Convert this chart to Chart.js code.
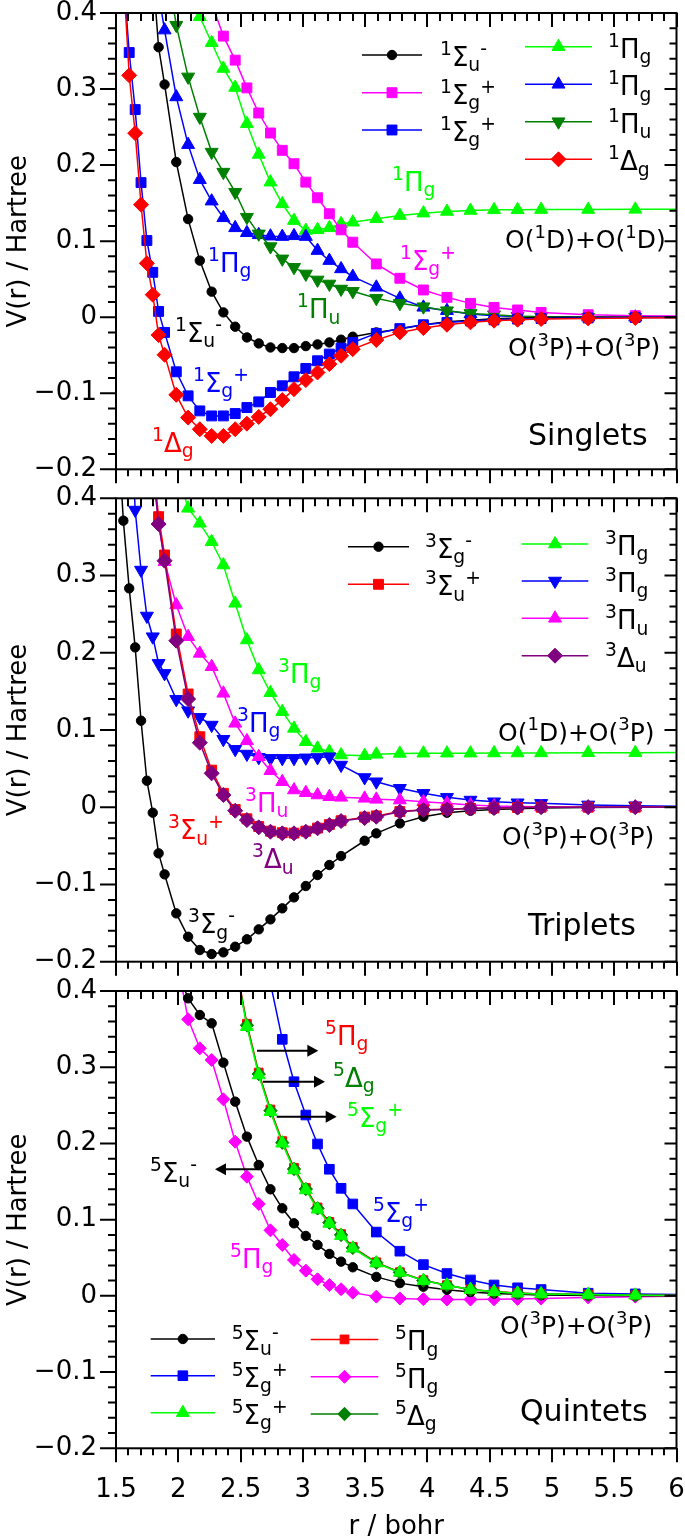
<!DOCTYPE html>
<html><head><meta charset="utf-8">
<script src="https://cdn.jsdelivr.net/npm/chart.js@4/dist/chart.umd.min.js"></script>
<style>
html,body{margin:0;padding:0;background:#fff;overflow:hidden;width:685px;height:1538px;position:relative}
canvas{position:absolute;left:0}
</style></head>
<body>
<canvas id="c1" width="685" height="485" style="top:0px"></canvas>
<canvas id="c2" width="685" height="495" style="top:485px"></canvas>
<canvas id="c3" width="685" height="575" style="top:975px"></canvas>
<script>
const N = null;
// r grid (bohr)
const R = [1.512,1.559,1.606,1.654,1.701,1.748,1.795,1.842,1.890,1.984,
           2.079,2.173,2.268,2.362,2.457,2.551,2.646,2.740,2.835,2.929,
           3.024,3.118,3.213,3.307,3.401,3.496,3.590,3.779,3.968,4.157,
           4.346,4.535,4.724,4.913,5.291,5.669,6.614];
const X_TICKS = ['1.5','2','2.5','3','3.5','4','4.5','5','5.5','6'];
const Y_TICKS = ['\u22120.2','\u22120.1','0','0.1','0.2','0.3','0.4'];

// ---- Singlets ----
const S_SIGU_M = [N,N,N,N,N,N,0.455,0.355,0.306,0.204,
  0.129,0.0744,0.0336,0.0063,-0.0125,-0.0266,-0.0345,-0.0398,-0.0406,-0.0406,
  -0.038,-0.0358,-0.0332,-0.0296,-0.0257,N,-0.020,-0.0156,-0.010,-0.006,
  -0.004,-0.002,-0.001,-0.0005,0,0,0];
const S_SIGG_P_A = [N,N,N,N,N,N,N,N,N,N,
  N,N,0.413,0.3696,0.338,0.3015,0.2685,0.2422,0.2194,0.2018,
  0.1776,0.157,0.136,0.1149,0.0986,N,0.070,0.0512,0.0358,0.0261,
  0.0182,0.0129,0.0095,0.0063,0.0033,0.002,0.0005];
const S_SIGG_P_B = [N,0.45,0.348,0.273,0.177,0.1008,0.059,0.0076,-0.020,-0.0718,
  -0.1034,-0.1232,-0.1298,-0.1298,-0.1267,-0.1188,-0.1113,-0.099,-0.0902,-0.0784,
  -0.0674,-0.0573,-0.0485,-0.0406,-0.0332,N,-0.0213,-0.015,-0.010,-0.007,
  -0.005,-0.0035,-0.0025,-0.0018,-0.001,-0.0005,0];
const S_PIG_A = [N,N,N,N,N,N,N,N,N,N,
  0.43,0.395,0.3608,0.327,0.302,0.2545,0.214,0.1776,0.149,0.127,
  0.114,0.1149,0.1175,0.1228,0.1249,N,0.1294,0.1337,0.1368,0.139,
  0.1403,0.1412,0.1412,0.1415,0.1416,0.1418,0.1425];
const S_PIG_B = [N,N,N,N,N,N,N,0.425,0.3775,0.2896,
  0.2269,0.1808,0.1526,0.1307,0.1175,0.111,0.1083,0.1065,0.106,0.107,
  0.106,0.0876,0.0744,0.0635,0.0534,N,0.0393,0.0248,0.013,0.0086,
  0.0042,0.002,0.001,0.0005,0,0,0];
const S_PIU = [N,N,N,N,N,N,N,N,0.48,0.384,
  0.316,0.2632,0.2171,0.1908,0.1644,0.1315,0.1096,0.0929,0.0767,0.0656,
  0.0569,0.049,0.0437,0.0371,0.034,N,0.025,0.0182,0.0138,0.0086,
  0.005,0.0033,0.0013,0.0005,0,0,0];
const S_DELG = [N,0.45,0.318,0.242,0.148,0.0709,0.0296,-0.0235,-0.0494,-0.1021,
  -0.132,-0.1473,-0.1561,-0.1561,-0.1473,-0.140,-0.1311,-0.121,-0.109,-0.0946,
  -0.0827,-0.0727,-0.0617,-0.0507,-0.042,N,-0.030,-0.020,-0.0143,-0.0099,
  -0.0068,-0.0046,-0.0033,-0.0024,-0.0016,-0.001,0];

// ---- Triplets ----
const T_SIGG_M = [0.5,0.371,0.2834,0.207,0.112,0.0343,-0.0071,-0.0597,-0.0869,-0.1374,
  -0.1677,-0.1849,-0.1901,-0.1879,-0.1806,-0.171,-0.1581,-0.1452,-0.1309,-0.1167,
  -0.102,-0.0878,-0.0748,-0.0632,N,-0.0434,-0.0338,-0.0209,-0.0123,-0.0071,
  -0.0045,-0.003,-0.002,-0.001,-0.0005,0,0];
const T_SIGU_P = [N,N,N,N,N,N,0.449,0.3762,0.3266,0.2243,
  0.1466,0.0913,0.048,0.018,-0.003,-0.015,-0.025,-0.031,-0.033,-0.0335,
  -0.031,-0.027,-0.0225,-0.0175,N,-0.0128,-0.0112,-0.0056,-0.0034,-0.0026,
  -0.0014,-0.0009,-0.0004,0,0,0,0];
const T_PIG_A = [N,N,N,N,N,N,N,N,N,0.44,
  0.387,0.3676,0.3438,0.3136,0.264,0.2165,0.1777,0.1483,0.1237,0.1021,
  0.0848,0.0763,0.072,0.0676,N,0.0667,0.0685,0.0697,0.0699,0.07,
  0.07,0.0702,0.0702,0.0703,0.0705,0.0706,0.071];
const T_PIG_B = [N,N,0.55,0.3848,0.3071,0.2476,0.2208,0.1863,0.1733,0.1397,
  0.125,0.1164,0.1064,0.088,0.075,0.0689,0.0646,0.0633,0.0633,0.0633,
  0.064,0.0645,0.0654,0.0546,N,0.0385,0.033,0.0245,0.018,0.0128,
  0.0093,0.0071,0.0058,0.005,0.003,0.002,0];
const T_PIU = [N,N,N,N,N,N,0.44,0.37,0.318,0.2618,
  0.2208,0.1992,0.1819,0.1475,0.1086,0.086,0.0654,0.0473,0.033,0.0223,
  0.0188,0.0158,0.0136,0.0128,N,0.0115,0.0102,0.0093,0.0071,0.005,
  0.0028,0.0015,0.001,0.0005,0,0,0];
const T_DELU = [N,N,N,N,N,N,0.44,0.3667,0.3192,0.2156,
  0.1401,0.0835,0.0439,0.0158,-0.0045,-0.0166,-0.026,-0.0317,-0.0338,-0.0338,
  -0.0317,-0.0273,-0.023,-0.0179,N,-0.014,-0.0123,-0.0058,-0.0036,-0.0028,
  -0.0015,-0.001,-0.0005,0,0,0,0];

// ---- Quintets ----
const Q_SIGU_M = [N,N,N,N,N,N,N,N,N,0.43,
  0.3904,0.3685,0.3576,0.306,0.2548,0.2089,0.1717,0.1398,0.1149,0.0952,
  0.0786,0.0668,0.055,0.0449,0.0375,N,0.0249,0.0167,0.012,0.008,
  0.005,0.003,0.002,0.001,0.0005,0,0];
const Q_SIGG_P_A = [N,N,N,N,N,N,N,N,N,N,
  N,N,N,N,N,N,N,0.41,0.3366,0.281,
  0.2373,0.1993,0.1661,0.1411,0.1206,N,0.0837,0.0586,0.041,0.0293,
  0.0209,0.0143,0.0106,0.0083,0.0035,0.0026,0];
const Q_SIGG_P_B = [N,N,N,N,N,N,N,N,N,N,
  N,N,N,N,0.435,0.3532,0.2898,0.2417,0.2002,0.1652,
  0.139,0.1136,0.095,0.079,0.0624,N,0.043,0.0307,0.02,0.0139,
  0.0083,0.0055,0.0035,0.0026,0.0017,0.0008,0];
const Q_PIG_A = [N,N,N,N,N,N,N,N,N,N,
  N,N,N,N,0.44,0.357,0.293,0.2445,0.203,0.168,
  0.1415,0.116,0.097,0.081,0.064,N,0.044,0.031,0.0205,0.014,
  0.0085,0.0056,0.0036,0.0026,0.0017,0.0008,0];
const Q_PIG_B = [N,N,N,N,N,N,N,N,N,0.445,
  0.3629,0.3248,0.3095,0.2579,0.2023,0.1564,0.1206,0.086,0.0668,0.0471,
  0.0331,0.0218,0.0143,0.0087,0.0042,N,-0.001,-0.0034,-0.0043,-0.0048,
  -0.0048,-0.0045,-0.004,-0.0035,-0.002,-0.001,0];
const Q_DELG = [N,N,N,N,N,N,N,N,N,N,
  N,N,N,N,0.438,0.355,0.291,0.243,0.201,0.1665,
  0.1402,0.1148,0.096,0.080,0.063,N,0.0435,0.0308,0.0202,0.014,
  0.0084,0.0055,0.0035,0.0026,0.0017,0.0008,0];

// ---- styling ----
const FONT = '"DejaVu Sans", "Liberation Sans", sans-serif';
const BLACK='#000000', MAG='#ff00ff', BLUE='#0000ff', LIME='#00ff00', DKG='#008000', RED='#ff0000', PURP='#800080';

function pts(vals){ return R.map((r,i)=>({x:r,y:vals[i]})).filter(p=>p.y!==null); }

function drawRich(ctx, s, x, y, size, color){
  const parts=[]; let i=0;
  while(i<s.length){
    let mode='n', c=s[i];
    if(c==='^'||c==='_'){ mode=c; i++; c=s[i]; }
    const last=parts[parts.length-1];
    if(last && last.mode==='n' && mode==='n') last.t+=c; else parts.push({mode,t:c});
    i++;
  }
  ctx.fillStyle=color; ctx.textAlign='left'; ctx.textBaseline='alphabetic';
  let cx=x;
  for(const p of parts){
    const fs = p.mode==='n' ? size : size*0.72;
    const dy = p.mode==='^' ? -size*0.42 : (p.mode==='_' ? size*0.2 : 0);
    ctx.font = fs+'px '+FONT;
    ctx.fillText(p.t, cx, y+dy);
    cx += ctx.measureText(p.t).width;
  }
}

const decorPlugin = {
  id:'decor',
  afterDraw(chart){
    const P = chart.options.plugins.decor;
    const {ctx, chartArea:a, scales:{x,y}} = chart;
    ctx.save();
    // frame + ticks
    ctx.strokeStyle='#000'; ctx.lineWidth=2; ctx.lineCap='butt';
    ctx.beginPath();
    for(let i=0;i<=45;i++){
      const px = Math.round(x.getPixelForValue(1.5+i*0.1));
      const major = i%5===0;
      ctx.moveTo(px, a.bottom); ctx.lineTo(px, a.bottom+(major?14:7));
      ctx.moveTo(px, a.top); ctx.lineTo(px, a.top+(major?14:8));
    }
    for(let j=0;j<=30;j++){
      const py = y.getPixelForValue(-0.2+j*0.02);
      const major = j%5===0;
      ctx.moveTo(a.left-(major?16:8), py); ctx.lineTo(a.left, py);
      ctx.moveTo(a.right-(major?12:7), py); ctx.lineTo(a.right, py);
    }
    ctx.stroke();
    ctx.strokeRect(a.left, a.top, a.right-a.left, a.bottom-a.top);
    // legend
    const dsets = chart.data.datasets;
    for(const col of P.legend){
      col.rows.forEach(([dy, k, label])=>{
        const d = dsets[k];
        const yy = a.top+dy;
        ctx.strokeStyle=d.borderColor; ctx.lineWidth=1.5;
        ctx.beginPath(); ctx.moveTo(a.left+col.x1, yy); ctx.lineTo(a.left+col.x2, yy); ctx.stroke();
        ctx.fillStyle=d.pointBackgroundColor; ctx.strokeStyle=d.pointBorderColor; ctx.lineWidth=1;
        Chart.helpers.drawPoint(ctx, {pointStyle:d.pointStyle, rotation:d.pointRotation||0, radius:d.pointRadius, borderWidth:1}, a.left+(col.x1+col.x2)/2, yy);
        drawRich(ctx, label, a.left+col.tx, yy+11, 26, '#000');
      });
    }
    // arrows
    ctx.strokeStyle='#000'; ctx.fillStyle='#000'; ctx.lineWidth=2;
    for(const [x1,y1,x2] of (P.arrows||[])){
      const X1=a.left+x1, X2=a.left+x2, Y=a.top+y1, dir=Math.sign(X2-X1);
      ctx.beginPath(); ctx.moveTo(X1,Y); ctx.lineTo(X2-dir*8,Y); ctx.stroke();
      ctx.beginPath(); ctx.moveTo(X2,Y); ctx.lineTo(X2-dir*11,Y-6); ctx.lineTo(X2-dir*11,Y+6); ctx.closePath(); ctx.fill();
    }
    // labels
    for(const [dx,dy,txt,color,size] of P.labels){
      drawRich(ctx, txt, a.left+dx, a.top+dy, size||26, color);
    }
    ctx.restore();
  }
};

function ds(vals,color,style,r,order,rot){
  return {data:pts(vals), borderColor:color, backgroundColor:color, borderWidth:1.5,
    pointStyle:style, pointRadius:r, pointHoverRadius:r, pointRotation:rot||0,
    pointBackgroundColor:color, pointBorderColor:color, pointBorderWidth:1,
    tension:0, fill:false, clip:0, order:order};
}

function makeChart(id, cfg){
  new Chart(document.getElementById(id), {
    type:'line',
    data:{datasets:cfg.datasets},
    options:{
      responsive:false, animation:false, devicePixelRatio:1,
      layout:{padding:{left:0,right:8.5,top:cfg.padTop,bottom:cfg.padBottom}},
      plugins:{legend:{display:false}, tooltip:{enabled:false}, decor:cfg.decor},
      scales:{
        x:{type:'linear', min:1.5, max:6, display:cfg.showX,
          ticks:{stepSize:0.5, autoSkip:false, maxRotation:0, padding:26, color:'#000',
            font:{family:FONT,size:26}, callback:(v,i)=>X_TICKS[i]},
          grid:{display:false, drawTicks:false}, border:{display:false},
          title:{display:cfg.showX, text:'r / bohr', color:'#000', font:{family:FONT,size:26}, padding:{top:0,bottom:6.7}},
          afterFit:s=>{ s.height = cfg.showX ? 101.7 : 0; s.paddingLeft=0; s.paddingRight=0; }
        },
        y:{type:'linear', min:-0.2, max:0.4,
          ticks:{stepSize:0.1, padding:19, color:'#000', font:{family:FONT,size:26}, callback:(v,i)=>Y_TICKS[i]},
          grid:{display:false, drawTicks:false}, border:{display:false},
          title:{display:true, text:'V(r) / Hartree', color:'#000', font:{family:FONT,size:26}, padding:{top:4,bottom:0}},
          afterFit:s=>{ s.width=116; s.paddingTop=0; s.paddingBottom=0; }
        }
      }
    },
    plugins:[decorPlugin]
  });
}

// Panel 1: Singlets
makeChart('c1', {
  padTop:13, padBottom:15.7, showX:false,
  datasets:[
    ds(S_SIGU_M, BLACK, 'circle', 4.7, 3),
    ds(S_SIGG_P_A, MAG, 'rect', 7, 4),
    ds(S_SIGG_P_B, BLUE, 'rect', 7, 2),
    ds(S_PIG_A, LIME, 'triangle', 7.5, 7),
    ds(S_PIG_B, BLUE, 'triangle', 7.5, 6),
    ds(S_PIU, DKG, 'triangle', 7.5, 5, 180),
    ds(S_DELG, RED, 'rectRot', 7.5, 1)
  ],
  decor:{
    legend:[
      {x1:246, x2:306, tx:324, rows:[[42,0,'^1Σ_u^-'],[79.7,1,'^1Σ_g^+'],[117,2,'^1Σ_g^+']]},
      {x1:409, x2:476, tx:492, rows:[[33.7,3,'^1Π_g'],[71.3,4,'^1Π_g'],[108.7,5,'^1Π_u'],[146.3,6,'^1Δ_g']]}
    ],
    labels:[
      [276,178,'^1Π_g',LIME],
      [389,235,'O(^1D)+O(^1D)',BLACK,25],
      [284,257,'^1Σ_g^+',MAG],
      [392,343,'O(^3P)+O(^3P)',BLACK,25],
      [412,432,'Singlets',BLACK,30],
      [92,258.7,'^1Π_g',BLUE],
      [181,305.3,'^1Π_u',DKG],
      [59,328.7,'^1Σ_u^-',BLACK],
      [77,378.7,'^1Σ_g^+',BLUE],
      [36,438.7,'^1Δ_g',RED]
    ]
  }
});

// Panel 2: Triplets
makeChart('c2', {
  padTop:13.3, padBottom:18.3, showX:false,
  datasets:[
    ds(T_SIGG_M, BLACK, 'circle', 4.7, 3),
    ds(T_SIGU_P, RED, 'rect', 7, 2),
    ds(T_PIG_A, LIME, 'triangle', 7.5, 6),
    ds(T_PIG_B, BLUE, 'triangle', 7.5, 5, 180),
    ds(T_PIU, MAG, 'triangle', 7.5, 4),
    ds(T_DELU, PURP, 'rectRot', 7.5, 1)
  ],
  decor:{
    legend:[
      {x1:232, x2:293, tx:309, rows:[[48.4,0,'^3Σ_g^-'],[86,1,'^3Σ_u^+']]},
      {x1:405.7, x2:472.3, tx:489, rows:[[45.7,2,'^3Π_g'],[82.7,3,'^3Π_g'],[120,4,'^3Π_u'],[157.4,5,'^3Δ_u']]}
    ],
    labels:[
      [162,184.4,'^3Π_g',LIME],
      [121,233.4,'^3Π_g',BLUE],
      [382,242.4,'O(^1D)+O(^3P)',BLACK,25],
      [129,313.4,'^3Π_u',MAG],
      [52,341,'^3Σ_u^+',RED],
      [386,346.7,'O(^3P)+O(^3P)',BLACK,25],
      [136,370,'^3Δ_u',PURP],
      [72,435,'^3Σ_g^-',BLACK],
      [412,436.7,'Triplets',BLACK,30]
    ]
  }
});

// Panel 3: Quintets
makeChart('c3', {
  padTop:16, padBottom:0, showX:true,
  datasets:[
    ds(Q_SIGU_M, BLACK, 'circle', 4.7, 5),
    ds(Q_SIGG_P_A, BLUE, 'rect', 6.8, 4),
    ds(Q_SIGG_P_B, LIME, 'triangle', 7.5, 1),
    ds(Q_PIG_A, RED, 'rect', 6.2, 3),
    ds(Q_PIG_B, MAG, 'rectRot', 6.5, 6),
    ds(Q_DELG, DKG, 'rectRot', 6.7, 2)
  ],
  decor:{
    legend:[
      {x1:34.7, x2:99, tx:115.7, rows:[[348,0,'^5Σ_u^-'],[384.7,1,'^5Σ_g^+'],[421.7,2,'^5Σ_g^+']]},
      {x1:194.7, x2:262.3, tx:279, rows:[[348.4,3,'^5Π_g'],[385.8,4,'^5Π_g'],[423,5,'^5Δ_g']]}
    ],
    arrows:[[141,59.7,202.3],[147,90.7,209],[160.7,125.7,220.7],[144,178.3,99]],
    labels:[
      [209,54,'^5Π_g',RED],
      [217,96,'^5Δ_g',DKG],
      [231,136,'^5Σ_g^+',LIME],
      [34,190.7,'^5Σ_u^-',BLACK],
      [257,231,'^5Σ_g^+',BLUE],
      [114,277,'^5Π_g',MAG],
      [384,343,'O(^3P)+O(^3P)',BLACK,25],
      [404,430,'Quintets',BLACK,30]
    ]
  }
});
</script>
</body></html>
